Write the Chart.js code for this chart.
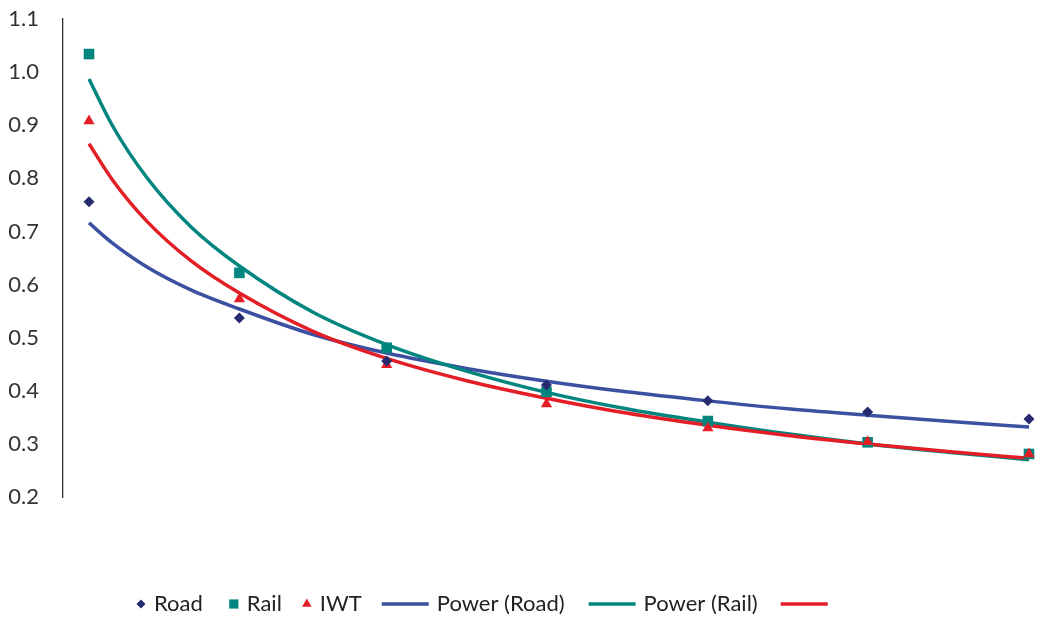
<!DOCTYPE html>
<html>
<head>
<meta charset="utf-8">
<script src="https://cdn.jsdelivr.net/npm/chart.js@4.4.1/dist/chart.umd.min.js"></script>
<style>
  html, body { margin: 0; padding: 0; background: #fff; }
  #wrap { width: 1037px; height: 621px; position: relative; }
</style>
</head>
<body>
<div id="wrap"><canvas id="chart"></canvas></div>
<script>
// observed points (x = position along the category axis)
const pointX = [1, 1.96, 2.90, 3.92, 4.95, 5.97, 7];
const roadValues = [0.756, 0.537, 0.456, 0.411, 0.381, 0.360, 0.347];
const railValues = [1.034, 0.622, 0.481, 0.398, 0.343, 0.303, 0.281];
const iwtValues  = [0.908, 0.573, 0.449, 0.375, 0.330, 0.304, 0.281];

// power trendlines
const trendX = [1, 1.15, 1.37, 1.65, 1.96, 2.43, 2.90, 3.41, 3.92, 4.43, 4.95, 5.46, 5.97, 6.5, 7];
const roadTrend = [0.716, 0.678, 0.633, 0.590, 0.554, 0.506, 0.471, 0.442, 0.418, 0.398, 0.381, 0.366, 0.354, 0.342, 0.332];
const railTrend = [0.987, 0.899, 0.801, 0.709, 0.635, 0.548, 0.487, 0.437, 0.397, 0.366, 0.341, 0.319, 0.300, 0.284, 0.270];
const iwtTrend  = [0.865, 0.797, 0.719, 0.645, 0.584, 0.512, 0.461, 0.419, 0.386, 0.358, 0.335, 0.316, 0.300, 0.285, 0.273];

const yTicks = [0.2, 0.3, 0.4, 0.5, 0.6, 0.7, 0.8, 0.9, 1.0, 1.1];

const colors = {
    roadMarker: '#262b6f',
    roadLine: '#3c50a1',
    rail: '#00857f',
    iwt: '#e31e26'
};

function toXY(xs, ys) {
    return xs.map((x, i) => ({ x: x, y: ys[i] }));
}

// legend drawn by hand: markers and lines of different widths, like the original
const legendPlugin = {
    id: 'customLegend',
    afterDraw(chart) {
        const ctx = chart.ctx;
        const items = [
            { text: 'Road', kind: 'marker', style: 'rectRot', radius: 4.5, color: colors.roadMarker, gap: 26 },
            { text: 'Rail', kind: 'marker', style: 'rect', radius: 6.5, color: colors.rail, gap: 20 },
            { text: 'IWT', kind: 'marker', style: 'triangle', radius: 5.5, color: colors.iwt, gap: 20 },
            { text: 'Power (Road)', kind: 'line', color: colors.roadLine, gap: 24 },
            { text: 'Power (Rail)', kind: 'line', color: colors.rail, gap: 23 },
            { text: '', kind: 'line', color: colors.iwt, gap: 0 }
        ];
        const y = 604;
        let x = 136;
        ctx.save();
        ctx.font = '22px Lato';
        ctx.textBaseline = 'middle';
        items.forEach(item => {
            if (item.kind === 'marker') {
                ctx.fillStyle = item.color;
                Chart.helpers.drawPoint(ctx, {
                    pointStyle: item.style, radius: item.radius, rotation: 0, borderWidth: 0
                }, x + 5, y);
                x += 18;
            } else {
                ctx.strokeStyle = item.color;
                ctx.lineWidth = 3.5;
                ctx.beginPath();
                ctx.moveTo(x, y);
                ctx.lineTo(x + 47, y);
                ctx.stroke();
                x += 55;
            }
            if (item.text) {
                ctx.fillStyle = '#222';
                ctx.fillText(item.text, x, y);
                x += ctx.measureText(item.text).width + item.gap;
            }
        });
        ctx.restore();
    }
};

const ctx = document.getElementById('chart').getContext('2d');

new Chart(ctx, {
    type: 'scatter',
    data: {
        datasets: [
            {
                label: 'Road',
                data: toXY(pointX, roadValues),
                pointStyle: 'rectRot',
                pointRadius: 5.5,
                backgroundColor: colors.roadMarker,
                borderWidth: 0,
                order: -3
            },
            {
                label: 'Rail',
                data: toXY(pointX, railValues),
                pointStyle: 'rect',
                pointRadius: 7.5,
                backgroundColor: colors.rail,
                borderWidth: 0,
                order: -1
            },
            {
                label: 'IWT',
                data: toXY(pointX, iwtValues),
                pointStyle: 'triangle',
                pointRadius: 6.5,
                backgroundColor: colors.iwt,
                borderWidth: 0,
                order: -2
            },
            {
                type: 'line',
                label: 'Power (Road)',
                data: toXY(trendX, roadTrend),
                borderColor: colors.roadLine,
                borderWidth: 3.5,
                pointRadius: 0,
                cubicInterpolationMode: 'monotone',
                fill: false,
                order: 3
            },
            {
                type: 'line',
                label: 'Power (Rail)',
                data: toXY(trendX, railTrend),
                borderColor: colors.rail,
                borderWidth: 3.5,
                pointRadius: 0,
                cubicInterpolationMode: 'monotone',
                fill: false,
                order: 2
            },
            {
                type: 'line',
                label: 'Power (IWT)',
                data: toXY(trendX, iwtTrend),
                borderColor: colors.iwt,
                borderWidth: 3.5,
                pointRadius: 0,
                cubicInterpolationMode: 'monotone',
                fill: false,
                order: 1
            }
        ]
    },
    options: {
        responsive: true,
        maintainAspectRatio: false,
        animation: false,
        clip: false,
        layout: {
            autoPadding: false,
            padding: { top: 19, right: 3, bottom: 124, left: 0 }
        },
        scales: {
            x: {
                type: 'linear',
                min: 0.834,
                max: 7.032,
                display: false
            },
            y: {
                min: 0.2,
                max: 1.1,
                afterFit: function(scale) {
                    scale.width = 63;
                    scale.paddingTop = 0;
                    scale.paddingBottom = 0;
                },
                afterBuildTicks: function(scale) {
                    scale.ticks = yTicks.map(v => ({ value: v }));
                },
                grid: { display: false, drawTicks: false },
                border: { display: true, color: '#333', width: 1.3 },
                ticks: {
                    padding: 24,
                    color: '#333',
                    font: { family: 'Lato', size: 22 },
                    callback: function(value) { return value.toFixed(1); }
                }
            }
        },
        plugins: {
            legend: { display: false },
            tooltip: { enabled: false }
        }
    },
    plugins: [legendPlugin]
});
</script>
</body>
</html>
